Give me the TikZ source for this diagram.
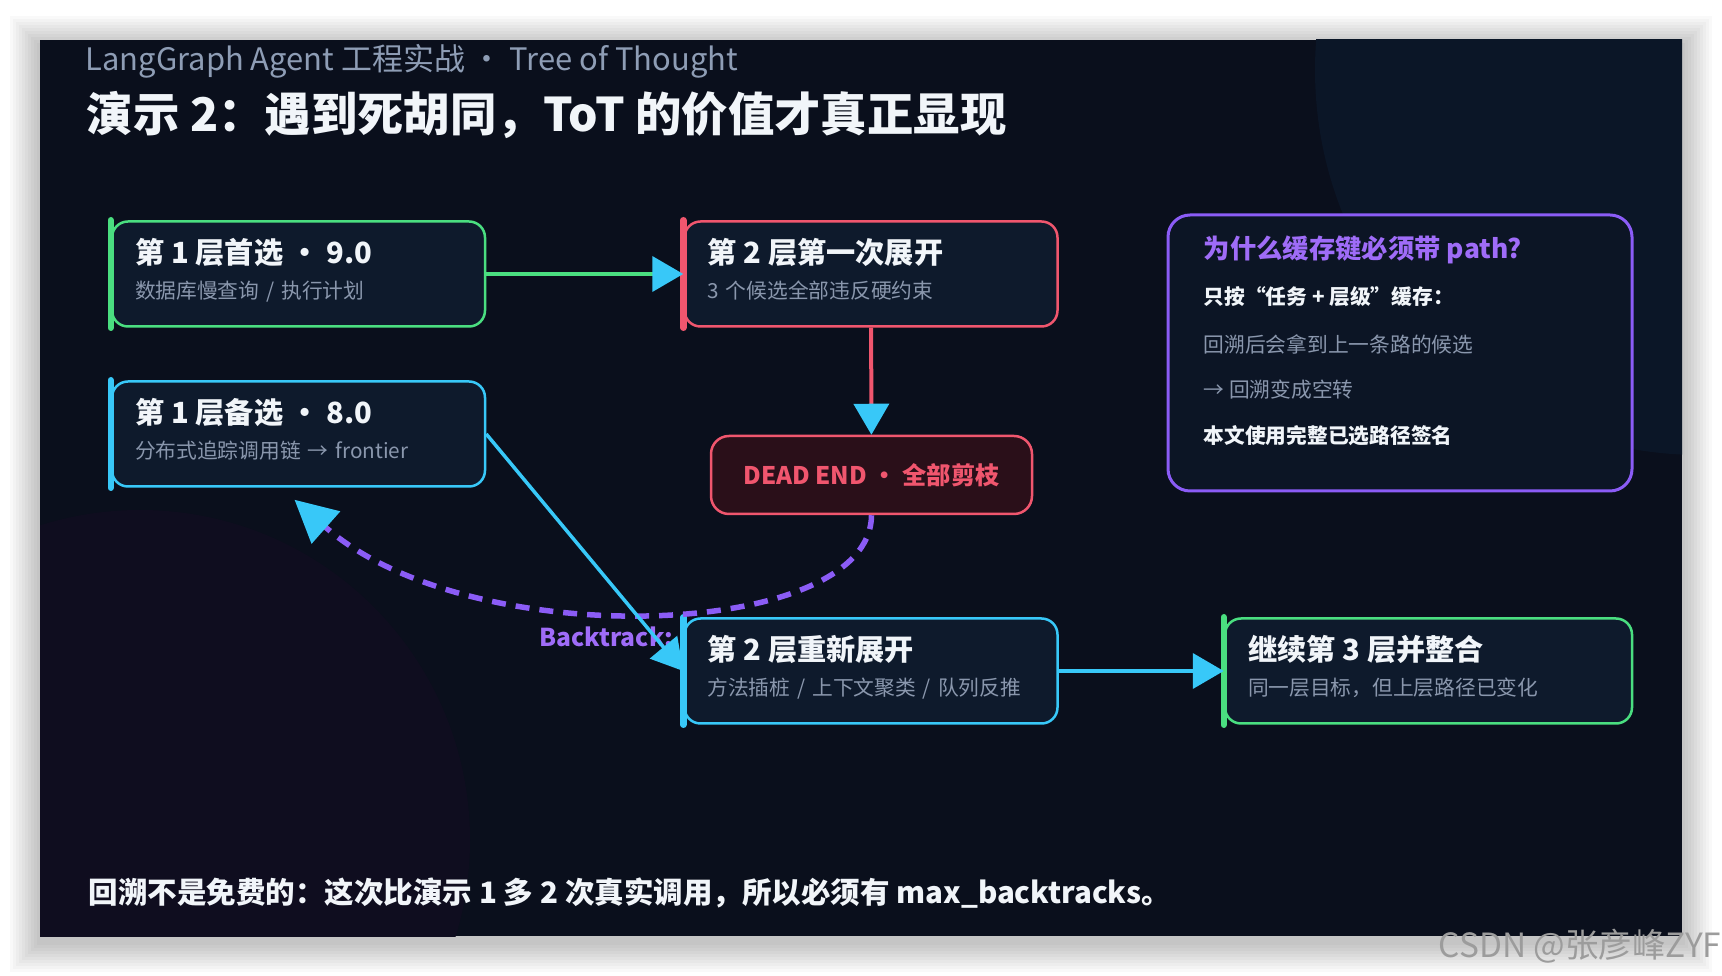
\documentclass[tikz,border=0pt]{standalone}
\usepackage{fontspec}
\setmainfont{Noto Sans CJK SC}
\usetikzlibrary{arrows.meta}

\definecolor{panelc}{HTML}{0A0F1C}
\definecolor{cardc}{HTML}{0E1A2C}
\definecolor{whyc}{HTML}{0C1525}
\definecolor{deadc}{HTML}{2A0F19}
\definecolor{greenc}{HTML}{4ADE80}
\definecolor{cyanc}{HTML}{38C8F8}
\definecolor{redc}{HTML}{F0566E}
\definecolor{purplec}{HTML}{8B5CF6}
\definecolor{purptxt}{HTML}{9F6CF8}
\definecolor{headc}{HTML}{F1F5F9}
\definecolor{subc}{HTML}{8A97AD}
\definecolor{kickc}{HTML}{8E9DB5}
\definecolor{glowp}{HTML}{0F0D1F}
\definecolor{glowb}{HTML}{0B1627}
\definecolor{markc}{HTML}{9C9C9C}

\newcommand{\cardttl}[1]{{\fontsize{8.3}{10}\selectfont\bfseries\color{headc}#1}}
\newcommand{\cardsub}[1]{{\fontsize{5.9}{7}\selectfont\color{subc}#1}}

\begin{document}
\begin{tikzpicture}[x=0.1mm, y=-0.1mm,
    card/.style={draw=#1, fill=cardc, line width=0.25mm, rounded corners=1.6mm,
      minimum width=37.3mm, minimum height=10.5mm, text width=32.7mm, text depth=13pt,
      inner xsep=2.3mm, align=left, font=\fontsize{5.9}{7}\selectfont},
    dead/.style={draw=redc, fill=deadc, line width=0.25mm, rounded corners=1.8mm,
      minimum width=32.1mm, minimum height=7.8mm, text=redc,
      font=\fontsize{6.9}{9}\selectfont\bfseries},
    why/.style={draw=purplec, fill=whyc, line width=0.3mm, rounded corners=2.2mm,
      minimum width=46.4mm, minimum height=27.6mm},
    whyline/.style={anchor=west, inner sep=0, text=#1, font=\fontsize{5.9}{7}\selectfont},
    bar/.style={draw=#1, line width=0.65mm, line cap=round},
    link/.style={line width=0.4mm, -{Triangle[length=3.1mm,width=3.5mm,color=cyanc]}},
    backtrack/.style={draw=purplec, line width=0.55mm, dash pattern=on 1.4mm off 1mm,
      -{Triangle[length=4.2mm,width=4.2mm,color=cyanc]}}]

  \useasboundingbox (0,0) rectangle (1722,976);
  \fill[white] (0,0) rectangle (1722,976);
  % soft shadow round the slide
  \foreach \s in {3,6,...,30}
    \fill[black, opacity=0.025] (40-\s,46-\s) rectangle (1682+\s,942+\s);
  \fill[panelc] (40,40) rectangle (1682,936);
  \begin{scope}
    \clip (40,40) rectangle (1682,936);
    \fill[glowp] (140,840) circle[radius=33mm];
    \fill[glowb] (1700,70) circle[radius=38.5mm];
  \end{scope}

  % heading
  \node[anchor=base west, inner sep=0, text=kickc, font=\fontsize{8.8}{11}\selectfont] (kicker) at (85,71)
    {LangGraph Agent 工程实战 • Tree of Thought};
  \node[anchor=base west, inner sep=0, text=headc, font=\fontsize{13.2}{15}\selectfont\bfseries] (title) at (86,132)
    {演示 2：遇到死胡同，ToT 的价值才真正显现};

  % cards
  \node[dead] (dead) at (871.5,475) {DEAD END • 全部剪枝};
  \node[anchor=east, inner sep=0, text=purptxt, font=\fontsize{7}{9}\selectfont\bfseries] (btlabel) at (674,637) {Backtrack:};
  \node[card=greenc] (pick1) at (298.5,274) {\cardttl{第 1 层首选 • 9.0}\\[3pt]\cardsub{数据库慢查询 / 执行计划}};
  \node[card=cyanc] (alt1) at (298.5,434) {\cardttl{第 1 层备选 • 8.0}\\[3pt]\cardsub{分布式追踪调用链 → frontier}};
  \node[card=redc] (first2) at (871,274) {\cardttl{第 2 层第一次展开}\\[3pt]\cardsub{3 个候选全部违反硬约束}};
  \node[card=cyanc] (redo2) at (871,671) {\cardttl{第 2 层重新展开}\\[3pt]\cardsub{方法插桩 / 上下文聚类 / 队列反推}};
  \node[card=greenc, minimum width=40.7mm, text width=36.1mm] (merge3) at (1428.5,671)
    {\cardttl{继续第 3 层并整合}\\[3pt]\cardsub{同一层目标，但上层路径已变化}};
  \foreach \n/\c in {pick1/greenc, alt1/cyanc, first2/redc, redo2/cyanc, merge3/greenc}
    \draw[bar=\c] (\n.north west) -- (\n.south west);

  % backtrack path, then the links
  \draw[backtrack] (dead.south) .. controls (871,640) and (470,655) .. ([shift={(-0.4mm,-1.2mm)}]alt1.south);
  \draw[link, greenc] (pick1) -- (first2);
  \draw[link, redc] (first2) -- (dead);
  \draw[link, cyanc, line width=0.35mm] (alt1.east) -- (redo2.west);
  \draw[link, cyanc] (redo2) -- (merge3);

  % side note
  \node[why] (why) at (1400,353) {};
  \node[whyline=purptxt, font=\fontsize{7.5}{9}\selectfont\bfseries] (why1) at (1203,250) {为什么缓存键必须带 path?};
  \node[whyline=headc, font=\fontsize{5.9}{7}\selectfont\bfseries] (why2) at (1203,297) {只按“任务 + 层级”缓存：};
  \node[whyline=subc] (why3) at (1203,344) {回溯后会拿到上一条路的候选};
  \node[whyline=subc] (why4) at (1203,390) {→ 回溯变成空转};
  \node[whyline=headc, font=\fontsize{5.9}{7}\selectfont\bfseries] (why5) at (1203,436) {本文使用完整已选路径签名};

  % footer
  \node[anchor=west, inner sep=0, text=headc, font=\fontsize{8.4}{10}\selectfont\bfseries] (note) at (88,893)
    {回溯不是免费的：这次比演示 1 多 2 次真实调用，所以必须有 max\_backtracks。};
  \node[anchor=east, inner sep=0, text=markc, font=\fontsize{9.5}{11}\selectfont] (mark) at (1722,946) {CSDN @张彦峰ZYF};
\end{tikzpicture}
\end{document}
